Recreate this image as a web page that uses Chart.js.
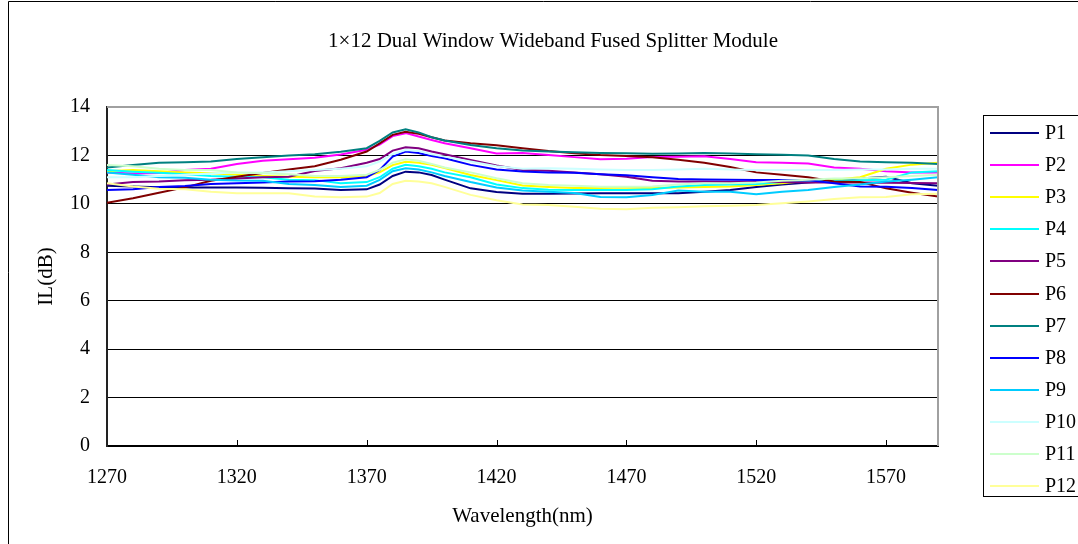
<!DOCTYPE html>
<html>
<head>
<meta charset="utf-8">
<title>1x12 Splitter IL</title>
<script src="https://cdn.jsdelivr.net/npm/chart.js@4.4.0/dist/chart.umd.min.js"></script>
<style>
  html, body { margin: 0; padding: 0; background: #fff; overflow: hidden; }
  #chart { display: block; }
</style>
</head>
<body>
<canvas id="chart" width="1078" height="544"></canvas>
<script>
// wavelength samples (nm), denser around the 1385 water peak
const wavelengths = [1270, 1280, 1290, 1300, 1310, 1320, 1330, 1340, 1350, 1360, 1370,
  1375, 1380, 1385, 1390, 1395, 1400,
  1410, 1420, 1430, 1440, 1450, 1460, 1470, 1480, 1490, 1500, 1510, 1520, 1530, 1540, 1550, 1560, 1570, 1580, 1590];

const xTicks = [1270, 1320, 1370, 1420, 1470, 1520, 1570];
const yTicks = [0, 2, 4, 6, 8, 10, 12, 14];

const portNames = ["P1", "P2", "P3", "P4", "P5", "P6", "P7", "P8", "P9", "P10", "P11", "P12"];
const portColors = ["#000080", "#ff00ff", "#ffff00", "#00ffff", "#800080", "#800000",
  "#008080", "#0000ff", "#00ccff", "#ccffff", "#ccffcc", "#ffff99"];

// insertion loss (dB)
const p1 = [10.75, 10.72, 10.69, 10.68, 10.68, 10.68, 10.67, 10.64, 10.63, 10.57, 10.6,
  10.8, 11.15, 11.33, 11.3, 11.19, 11.0,
  10.64, 10.49, 10.42, 10.42, 10.43, 10.44, 10.44, 10.44, 10.44, 10.5, 10.57, 10.7, 10.8, 10.88, 10.95, 11.05, 11.12, 10.85, 10.75];
const p2 = [11.3, 11.25, 11.27, 11.4, 11.45, 11.65, 11.78, 11.84, 11.9, 12.04, 12.23,
  12.45, 12.8, 12.92, 12.78, 12.64, 12.5,
  12.3, 12.08, 12.1, 12.02, 11.93, 11.84, 11.86, 11.93, 11.95, 11.97, 11.85, 11.72, 11.7, 11.67, 11.5, 11.45, 11.35, 11.3, 11.3];
const p3 = [11.35, 11.4, 11.35, 11.3, 11.26, 11.2, 11.15, 11.12, 11.1, 11.1, 11.15,
  11.3, 11.6, 11.74, 11.7, 11.61, 11.48,
  11.19, 10.98, 10.76, 10.7, 10.65, 10.66, 10.68, 10.65, 10.68, 10.7, 10.72, 10.78, 10.85, 10.95, 11.0, 11.1, 11.45, 11.62, 11.7];
const p4 = [11.4, 11.33, 11.28, 11.22, 11.15, 11.12, 11.1, 11.0, 10.98, 10.85, 10.9,
  11.1, 11.45, 11.61, 11.55, 11.45, 11.3,
  11.1, 10.8, 10.65, 10.58, 10.57, 10.57, 10.57, 10.6, 10.72, 10.78, 10.8, 10.82, 10.9, 10.92, 10.95, 10.98, 11.0, 11.3, 11.35];
const p5 = [10.8, 10.9, 10.92, 10.98, 11.0, 11.05, 11.1, 11.12, 11.36, 11.47, 11.7,
  11.85, 12.2, 12.34, 12.3, 12.16, 12.05,
  11.81, 11.58, 11.4, 11.37, 11.3, 11.22, 11.12, 10.95, 10.92, 10.92, 10.9, 10.9, 10.9, 10.88, 10.88, 10.88, 10.87, 10.86, 10.85];
const p6 = [10.05, 10.23, 10.46, 10.68, 10.95, 11.12, 11.27, 11.42, 11.55, 11.82, 12.16,
  12.5, 12.85, 12.98, 12.89, 12.75, 12.62,
  12.5, 12.42, 12.3, 12.18, 12.09, 12.02, 11.98, 11.92, 11.82, 11.7, 11.52, 11.3, 11.2, 11.1, 10.92, 10.9, 10.64, 10.46, 10.3];
const p7 = [11.5, 11.6, 11.7, 11.72, 11.75, 11.85, 11.92, 12.0, 12.05, 12.15, 12.3,
  12.6, 12.95, 13.08, 12.95, 12.75, 12.62,
  12.43, 12.3, 12.2, 12.16, 12.13, 12.1, 12.09, 12.07, 12.08, 12.1, 12.08, 12.05, 12.03, 12.0, 11.85, 11.75, 11.72, 11.7, 11.65];
const p8 = [10.57, 10.6, 10.7, 10.74, 10.82, 10.85, 10.88, 10.92, 10.93, 11.0, 11.1,
  11.4, 11.95, 12.16, 12.1, 11.98, 11.88,
  11.61, 11.42, 11.34, 11.3, 11.28, 11.22, 11.18, 11.1, 11.03, 11.01, 11.0, 10.99, 10.99, 10.98, 10.85, 10.72, 10.71, 10.65, 10.57];
const p9 = [11.3, 11.2, 11.1, 11.08, 11.0, 10.96, 10.95, 10.82, 10.78, 10.7, 10.75,
  10.99, 11.35, 11.47, 11.42, 11.3, 11.15,
  10.9, 10.68, 10.55, 10.5, 10.45, 10.28, 10.27, 10.37, 10.55, 10.5, 10.5, 10.4, 10.5, 10.57, 10.7, 10.8, 10.92, 11.0, 11.1];
const p10 = [11.1, 11.1, 11.15, 11.2, 11.25, 11.3, 11.3, 11.35, 11.4, 11.45, 11.55,
  11.75, 12.05, 12.22, 12.18, 12.05, 11.95,
  11.75, 11.55, 11.45, 11.47, 11.45, 11.42, 11.4, 11.4, 11.42, 11.45, 11.42, 11.4, 11.4, 11.4, 11.4, 11.42, 11.42, 11.45, 11.45];
const p11 = [11.6, 11.55, 11.45, 11.4, 11.4, 11.3, 11.26, 11.22, 11.15, 11.15, 11.2,
  11.4, 11.7, 11.84, 11.78, 11.65, 11.5,
  11.3, 11.06, 10.85, 10.78, 10.75, 10.71, 10.71, 10.72, 10.8, 10.85, 10.85, 10.88, 10.95, 11.0, 11.05, 11.06, 11.1, 11.15, 11.2];
const p12 = [10.85, 10.72, 10.62, 10.6, 10.5, 10.44, 10.44, 10.44, 10.3, 10.27, 10.3,
  10.45, 10.82, 10.95, 10.92, 10.85, 10.7,
  10.37, 10.15, 9.97, 9.95, 9.88, 9.8, 9.78, 9.84, 9.86, 9.9, 9.92, 9.95, 10.02, 10.1, 10.2, 10.27, 10.28, 10.4, 10.42];

const portValues = [p1, p2, p3, p4, p5, p6, p7, p8, p9, p10, p11, p12];

const FONT = '"Liberation Serif", "Times New Roman", serif';
const chartTitle = "1\u00d712 Dual Window Wideband Fused Splitter Module";

// frame, title, legend box and inward x ticks (Excel style)
const sheetDecor = {
  id: "sheetDecor",
  beforeDraw(chart) {
    const ctx = chart.ctx;
    ctx.save();
    ctx.fillStyle = "#fff";
    ctx.fillRect(0, 0, chart.width, chart.height);
    ctx.restore();
  },
  afterDatasetsDraw(chart) {
    const ctx = chart.ctx;
    const area = chart.chartArea;
    const xScale = chart.scales.x;
    ctx.save();
    // gray plot border on top and right
    ctx.strokeStyle = "#a0a0a0";
    ctx.lineWidth = 2;
    ctx.beginPath();
    ctx.moveTo(area.left, area.top);
    ctx.lineTo(area.right, area.top);
    ctx.lineTo(area.right, area.bottom);
    ctx.stroke();
    // small inward tick marks
    ctx.strokeStyle = "#000";
    ctx.lineWidth = 1;
    xTicks.slice(1).forEach(v => {
      const px = Math.round(xScale.getPixelForValue(v)) + 0.5;
      ctx.beginPath();
      ctx.moveTo(px, area.bottom);
      ctx.lineTo(px, area.bottom - 6);
      ctx.stroke();
    });
    ctx.restore();
  },
  afterDraw(chart) {
    const ctx = chart.ctx;
    ctx.save();
    // outer sheet frame
    ctx.strokeStyle = "#000";
    ctx.lineWidth = 1;
    ctx.beginPath();
    ctx.moveTo(8.5, chart.height);
    ctx.lineTo(8.5, 1.5);
    ctx.lineTo(chart.width, 1.5);
    ctx.stroke();

    // title
    ctx.fillStyle = "#000";
    ctx.font = "21px " + FONT;
    ctx.textAlign = "center";
    ctx.textBaseline = "middle";
    ctx.fillText(chartTitle, 553, 41);

    // legend
    ctx.strokeRect(983.5, 115.5, 200, 381);
    ctx.font = "20px " + FONT;
    ctx.textAlign = "left";
    chart.data.datasets.forEach((ds, i) => {
      const y = Math.round(133 + i * 32.1);
      ctx.strokeStyle = ds.borderColor;
      ctx.lineWidth = 2;
      ctx.beginPath();
      ctx.moveTo(990, y);
      ctx.lineTo(1039, y);
      ctx.stroke();
      ctx.fillStyle = "#000";
      ctx.fillText(ds.label, 1045, y + 1);
    });
    ctx.restore();
  }
};

const datasets = portNames.map((name, i) => ({
  label: name,
  data: wavelengths.map((w, j) => ({ x: w, y: portValues[i][j] })),
  borderColor: portColors[i],
  backgroundColor: portColors[i],
  borderWidth: 2,
  pointRadius: 0,
  tension: 0,
  fill: false,
  order: portNames.length - i
}));

const chart = new Chart(document.getElementById("chart"), {
  type: "line",
  data: { datasets },
  options: {
    responsive: false,
    animation: false,
    events: [],
    layout: { padding: { left: 30, right: 140, top: 107, bottom: 0 } },
    plugins: {
      legend: { display: false },
      title: { display: false },
      tooltip: { enabled: false }
    },
    scales: {
      x: {
        type: "linear",
        min: 1270,
        max: 1590,
        afterBuildTicks: scale => { scale.ticks = xTicks.map(v => ({ value: v })); },
        afterFit: scale => { scale.height = 98; },
        grid: { display: true, drawOnChartArea: false, drawTicks: false },
        border: { color: "#000", width: 2 },
        ticks: {
          color: "#000",
          padding: 20,
          maxRotation: 0,
          autoSkip: false,
          callback: v => String(v),
          font: { family: FONT, size: 20 }
        },
        title: {
          display: true,
          text: "Wavelength(nm)",
          color: "#000",
          font: { family: FONT, size: 21 },
          padding: { top: 0, bottom: 15 }
        }
      },
      y: {
        min: 0,
        max: 14,
        afterBuildTicks: scale => { scale.ticks = yTicks.map(v => ({ value: v })); },
        afterFit: scale => { scale.width = 77; },
        grid: {
          drawTicks: false,
          color: ctx => (ctx.tick && ctx.tick.value === 14 ? "rgba(0,0,0,0)" : "#000"),
          lineWidth: 1
        },
        border: { color: "#222", width: 2 },
        ticks: {
          color: "#000",
          padding: 17,
          callback: v => String(v),
          font: { family: FONT, size: 20 }
        },
        title: {
          display: true,
          text: "IL(dB)",
          color: "#000",
          font: { family: FONT, size: 21 },
          padding: { top: 4, bottom: 0 }
        }
      }
    }
  },
  plugins: [sheetDecor]
});
</script>
</body>
</html>
